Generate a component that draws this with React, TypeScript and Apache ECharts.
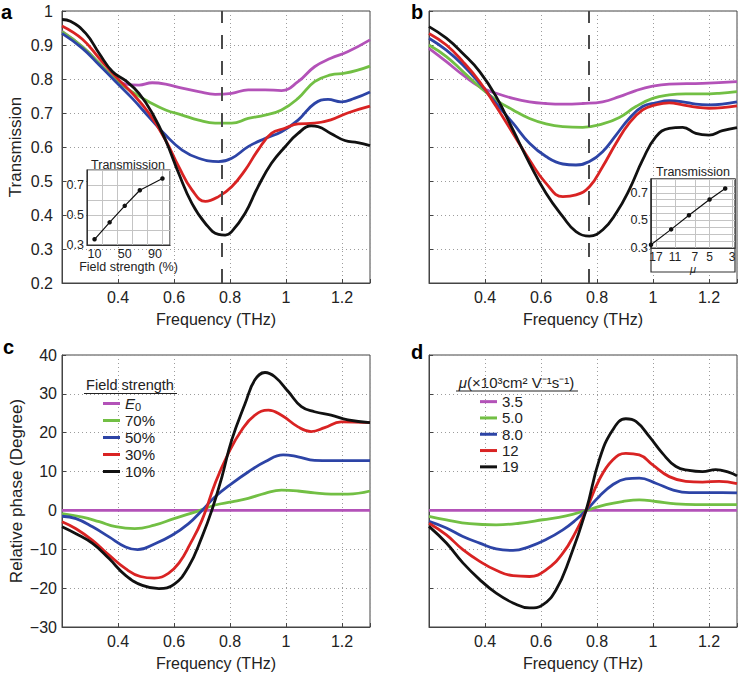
import React, { useEffect, useRef } from 'react';
import * as echarts from 'echarts';

const FONT = 'Liberation Sans, Arial, Helvetica, sans-serif';
const C_PURPLE = '#b352b8';
const C_GREEN = '#72bf44';
const C_BLUE = '#2d44a6';
const C_RED = '#d92323';
const C_BLACK = '#111111';
const seriesColors = [C_PURPLE, C_GREEN, C_BLUE, C_RED, C_BLACK];

// Legend labels
const fieldLegend = ['E0', '70%', '50%', '30%', '10%'];
const mobilityLegend = ['3.5', '5.0', '8.0', '12', '19'];

// Tick labels
const freqTickLabels = [0.4, 0.6, 0.8, 1, 1.2];
const insetYTickLabels = [0.3, 0.5, 0.7];
const insetAXTickLabels = [10, 50, 90];
const insetBXTickLabels = [17, 11, 7, 5, 3];

// Dashed marker frequency (THz)
const dipFrequency = 0.77;

// ---- Panel a: transmission, field strength ----
const transA_E0 = [[0.2,0.94],[0.273,0.895],[0.333,0.846],[0.392,0.797],[0.427,0.785],[0.475,0.782],[0.522,0.789],[0.57,0.785],[0.629,0.773],[0.688,0.763],[0.747,0.755],[0.806,0.758],[0.865,0.768],[0.925,0.768],[0.984,0.766],[1.043,0.792],[1.102,0.836],[1.16,0.861],[1.22,0.88],[1.3,0.915]];
const transA_70 = [[0.2,0.939],[0.273,0.895],[0.333,0.846],[0.392,0.797],[0.451,0.762],[0.51,0.733],[0.57,0.709],[0.629,0.694],[0.688,0.679],[0.747,0.67],[0.806,0.67],[0.865,0.684],[0.925,0.694],[0.984,0.709],[1.043,0.743],[1.102,0.792],[1.16,0.812],[1.21,0.817],[1.256,0.826],[1.3,0.838]];
const transA_50 = [[0.2,0.934],[0.273,0.89],[0.333,0.841],[0.392,0.792],[0.451,0.743],[0.51,0.689],[0.57,0.635],[0.629,0.591],[0.688,0.567],[0.759,0.557],[0.806,0.567],[0.865,0.601],[0.925,0.625],[0.984,0.645],[1.043,0.679],[1.102,0.728],[1.15,0.74],[1.197,0.733],[1.244,0.743],[1.3,0.762]];
const transA_30 = [[0.2,0.956],[0.273,0.917],[0.333,0.861],[0.392,0.807],[0.451,0.758],[0.51,0.7],[0.57,0.62],[0.617,0.542],[0.664,0.474],[0.712,0.44],[0.759,0.454],[0.806,0.483],[0.854,0.532],[0.9,0.591],[0.948,0.64],[0.996,0.655],[1.043,0.668],[1.102,0.67],[1.16,0.68],[1.22,0.7],[1.3,0.72]];
const transA_10 = [[0.2,0.975],[0.23,0.97],[0.285,0.934],[0.333,0.875],[0.38,0.822],[0.427,0.795],[0.475,0.758],[0.522,0.7],[0.57,0.62],[0.617,0.522],[0.664,0.434],[0.712,0.375],[0.759,0.343],[0.783,0.341],[0.806,0.351],[0.854,0.405],[0.9,0.483],[0.948,0.552],[0.996,0.6],[1.043,0.64],[1.09,0.662],[1.114,0.66],[1.16,0.64],[1.21,0.619],[1.256,0.613],[1.3,0.604]];

// ---- Panel b: transmission, mobility ----
const transB_35 = [[0.2,0.89],[0.262,0.851],[0.321,0.812],[0.381,0.777],[0.44,0.758],[0.5,0.743],[0.559,0.733],[0.618,0.728],[0.678,0.726],[0.749,0.728],[0.82,0.733],[0.88,0.748],[0.939,0.766],[0.999,0.779],[1.058,0.785],[1.177,0.787],[1.3,0.792]];
const transB_50 = [[0.2,0.9],[0.262,0.866],[0.321,0.822],[0.381,0.777],[0.44,0.738],[0.5,0.709],[0.559,0.684],[0.618,0.668],[0.678,0.66],[0.749,0.658],[0.82,0.668],[0.88,0.687],[0.939,0.719],[0.999,0.743],[1.058,0.753],[1.117,0.756],[1.177,0.756],[1.236,0.758],[1.3,0.763]];
const transB_80 = [[0.2,0.92],[0.262,0.885],[0.321,0.841],[0.381,0.787],[0.44,0.728],[0.5,0.67],[0.559,0.611],[0.618,0.572],[0.678,0.55],[0.725,0.547],[0.773,0.557],[0.82,0.586],[0.868,0.635],[0.915,0.684],[0.963,0.719],[1.01,0.73],[1.058,0.736],[1.106,0.733],[1.153,0.726],[1.2,0.724],[1.3,0.733]];
const transB_12 = [[0.2,0.934],[0.262,0.9],[0.321,0.851],[0.381,0.792],[0.44,0.719],[0.5,0.64],[0.559,0.562],[0.618,0.493],[0.678,0.454],[0.725,0.459],[0.773,0.483],[0.82,0.542],[0.868,0.611],[0.915,0.67],[0.963,0.709],[1.01,0.724],[1.058,0.73],[1.106,0.724],[1.153,0.717],[1.2,0.714],[1.3,0.721]];
const transB_19 = [[0.2,0.954],[0.262,0.92],[0.321,0.875],[0.381,0.822],[0.44,0.748],[0.5,0.65],[0.559,0.552],[0.618,0.464],[0.678,0.395],[0.725,0.351],[0.773,0.338],[0.82,0.356],[0.868,0.405],[0.915,0.474],[0.963,0.562],[1.01,0.63],[1.058,0.655],[1.106,0.658],[1.153,0.64],[1.2,0.635],[1.248,0.648],[1.3,0.657]];

// ---- Panel c: relative phase, field strength ----
const phaseC_E0 = [[0.2,0],[1.3,0]];
const phaseC_70 = [[0.2,-0.8],[0.273,-1.7],[0.333,-2.9],[0.392,-4.2],[0.46,-4.7],[0.53,-3.8],[0.6,-2.1],[0.688,-0.1],[0.747,1.4],[0.806,2.2],[0.865,3.1],[0.925,4.4],[0.984,5.2],[1.043,5.0],[1.102,4.5],[1.161,4.2],[1.221,4.2],[1.3,5.0]];
const phaseC_50 = [[0.2,-1.5],[0.25,-2.1],[0.309,-4.2],[0.368,-6.8],[0.427,-9.4],[0.47,-10.1],[0.534,-8.5],[0.593,-6.4],[0.652,-3.4],[0.7,0],[0.747,3.5],[0.806,6.9],[0.865,9.9],[0.925,12.5],[0.99,14.3],[1.043,13.8],[1.102,12.9],[1.161,12.8],[1.221,12.8],[1.3,12.8]];
const phaseC_30 = [[0.2,-2.9],[0.25,-4.7],[0.309,-7.7],[0.368,-11.5],[0.427,-15.0],[0.48,-17.0],[0.53,-17.4],[0.58,-16.2],[0.62,-13.3],[0.655,-9.0],[0.7,-2.5],[0.747,7.0],[0.794,14.7],[0.842,20.7],[0.889,24.5],[0.937,25.8],[0.984,24.5],[1.043,21.5],[1.09,20.3],[1.138,21.3],[1.197,22.8],[1.3,22.6]];
const phaseC_10 = [[0.2,-4.2],[0.25,-6.0],[0.309,-8.5],[0.368,-12.4],[0.427,-16.7],[0.487,-19.3],[0.546,-20.1],[0.6,-19.0],[0.652,-14.5],[0.7,-6.8],[0.735,0],[0.771,8.6],[0.806,18.1],[0.854,27.5],[0.889,33.6],[0.925,35.5],[0.96,34.4],[1.008,30.6],[1.055,26.7],[1.102,25.4],[1.161,24.5],[1.221,23.3],[1.3,22.6]];

// ---- Panel d: relative phase, mobility ----
const phaseD_35 = [[0.2,0],[1.3,0]];
const phaseD_50 = [[0.2,-1.5],[0.262,-2.4],[0.345,-3.4],[0.44,-3.7],[0.523,-3.3],[0.606,-2.4],[0.69,-1.4],[0.761,0],[0.832,1.5],[0.892,2.3],[0.951,2.7],[1.01,2.3],[1.082,1.7],[1.153,1.5],[1.224,1.5],[1.3,1.5]];
const phaseD_80 = [[0.2,-2.8],[0.262,-4.5],[0.321,-6.7],[0.381,-8.4],[0.44,-9.9],[0.5,-10.3],[0.559,-9.3],[0.618,-7.5],[0.678,-5.0],[0.725,-2.4],[0.761,0],[0.808,3.6],[0.856,6.6],[0.903,8.1],[0.951,8.3],[1.01,7.0],[1.07,5.3],[1.129,4.6],[1.189,4.6],[1.248,4.6],[1.3,4.5]];
const phaseD_12 = [[0.2,-3.3],[0.262,-6.3],[0.321,-10.1],[0.381,-13.1],[0.44,-15.4],[0.5,-16.8],[0.559,-17.0],[0.618,-15.3],[0.678,-11.0],[0.725,-5.4],[0.761,0],[0.808,7.9],[0.856,13.0],[0.903,14.7],[0.951,14.3],[0.999,11.7],[1.058,8.7],[1.117,7.5],[1.177,7.3],[1.236,7.5],[1.3,6.9]];
const phaseD_19 = [[0.2,-4.1],[0.262,-8.4],[0.321,-13.5],[0.381,-17.8],[0.44,-21.3],[0.5,-23.8],[0.559,-25.1],[0.606,-24.3],[0.654,-20.4],[0.701,-12.7],[0.761,0],[0.808,13.0],[0.856,20.7],[0.903,23.6],[0.939,22.9],[0.987,19.0],[1.034,14.7],[1.082,11.3],[1.129,10.3],[1.177,10.0],[1.224,10.5],[1.272,9.8],[1.3,8.9]];

// ---- Insets ----
const insetAField = [10, 30, 50, 70, 100];
const insetATrans = [0.338, 0.451, 0.561, 0.665, 0.743];
const insetBMobility = [19, 12, 8, 5, 3.5];
const insetBTrans = [0.324, 0.435, 0.537, 0.651, 0.731];

const fmt1 = (v: number) => String(Math.round(v * 10) / 10);
const inList = (list: number[], v: number) => list.some((t) => Math.abs(t - v) < 1e-6);

const gridLine = { show: true, lineStyle: { color: '#9c9c9c', type: [1, 3], width: 1 } };
const axisLine = { show: true, onZero: false, lineStyle: { color: '#444', width: 1 } };
const axisTick = { show: true, inside: true, length: 4, lineStyle: { color: '#444' } };

function freqAxis(gridIndex: number) {
  return {
    type: 'value', gridIndex, min: 0.2, max: 1.3, interval: 0.2,
    name: 'Frequency (THz)', nameLocation: 'middle', nameGap: 28,
    nameTextStyle: { fontSize: 16, color: '#222', fontFamily: FONT },
    axisLine, axisTick,
    axisLabel: {
      fontSize: 16, color: '#222', margin: 6, fontFamily: FONT,
      formatter: (v: number) => (inList(freqTickLabels, v) ? fmt1(v) : ''),
    },
    splitLine: gridLine,
  };
}

function transAxis(gridIndex: number, labels: boolean) {
  return {
    type: 'value', gridIndex, min: 0.2, max: 1, interval: 0.1,
    name: labels ? 'Transmission' : '', nameLocation: 'middle', nameGap: 38,
    nameTextStyle: { fontSize: 17, color: '#222', fontFamily: FONT },
    axisLine, axisTick,
    axisLabel: { show: labels, fontSize: 16, color: '#222', margin: 9, fontFamily: FONT, formatter: fmt1 },
    splitLine: gridLine,
  };
}

function phaseAxis(gridIndex: number, labels: boolean) {
  return {
    type: 'value', gridIndex, min: -30, max: 40, interval: 10,
    name: labels ? 'Relative phase (Degree)' : '', nameLocation: 'middle', nameGap: 37,
    nameTextStyle: { fontSize: 17, color: '#222', fontFamily: FONT },
    axisLine, axisTick,
    axisLabel: {
      show: labels, fontSize: 16, color: '#222', margin: 5, fontFamily: FONT,
      formatter: (v: number) => (v < 0 ? '\u2212' + Math.abs(v) : String(v)),
    },
    splitLine: gridLine,
  };
}

function curve(name: string, data: number[][], color: string, idx: number, extra: any = {}) {
  return {
    type: 'line', name, data, xAxisIndex: idx, yAxisIndex: idx,
    smooth: 0.45, symbol: 'none', showSymbol: false, silent: true,
    color, itemStyle: { color }, lineStyle: { color, width: 2.8 }, z: 3, ...extra,
  };
}

const dashMark = {
  silent: true, symbol: 'none', label: { show: false },
  lineStyle: { type: [14, 12], color: '#4a4a4a', width: 2 },
  data: [{ xAxis: dipFrequency }],
};

export default function App() {
  const ref = useRef<HTMLDivElement>(null);
  useEffect(() => {
    if (!ref.current) return;
    const chart = echarts.init(ref.current, undefined, { renderer: 'svg' });
    const panelA = [transA_E0, transA_70, transA_50, transA_30, transA_10];
    const panelB = [transB_35, transB_50, transB_80, transB_12, transB_19];
    const panelC = [phaseC_E0, phaseC_70, phaseC_50, phaseC_30, phaseC_10];
    const panelD = [phaseD_35, phaseD_50, phaseD_80, phaseD_12, phaseD_19];

    const series: any[] = [];
    panelA.forEach((d, i) => series.push(curve('Transmission (a) ' + fieldLegend[i], d, seriesColors[i], 0, i === 4 ? { markLine: dashMark } : {})));
    panelB.forEach((d, i) => series.push(curve('Transmission (b) ' + mobilityLegend[i], d, seriesColors[i], 1, i === 4 ? { markLine: dashMark } : {})));
    panelC.forEach((d, i) => series.push(curve(fieldLegend[i], d, seriesColors[i], 2)));
    panelD.forEach((d, i) => series.push(curve(mobilityLegend[i], d, seriesColors[i], 3)));

    const insetLine = (name: string, xs: number[], ys: number[], idx: number) => ({
      type: 'line', name, xAxisIndex: idx, yAxisIndex: idx, silent: true,
      data: xs.map((x, i) => [x, ys[i]]),
      symbol: 'circle', symbolSize: 4.5, showSymbol: true,
      itemStyle: { color: '#111' }, lineStyle: { color: '#111', width: 1.2 }, z: 10,
    });
    series.push(insetLine('Inset a', insetAField, insetATrans, 4));
    series.push(insetLine('Inset b', insetBMobility, insetBTrans, 5));

    const insetGridLine = { show: true, lineStyle: { color: '#c4c4c4', width: 1, type: 'solid' } };
    const insetAxisLine = { show: true, onZero: false, lineStyle: { color: '#333', width: 1 } };
    const insetYAxis = (gridIndex: number, interval: number) => ({
      type: 'value', gridIndex, min: 0.3, max: 0.8, interval, z: 7,
      axisLine: insetAxisLine, axisTick: { show: false },
      axisLabel: {
        fontSize: 12.5, color: '#222', margin: 3, fontFamily: FONT,
        formatter: (v: number) => (inList(insetYTickLabels, v) ? fmt1(v) : ''),
      },
      splitLine: insetGridLine,
    });

    const legendText = {
      fontSize: 15, color: '#222', fontFamily: FONT,
      rich: {
        i: { fontStyle: 'italic', fontSize: 15, fontFamily: FONT, color: '#222' },
        s: { fontSize: 11, fontFamily: FONT, color: '#222', padding: [6, 0, 0, 0] },
      },
    };

    const option: any = {
      animation: false,
      backgroundColor: '#ffffff',
      grid: [
        { left: 62, top: 11, width: 308, height: 272, show: true, borderColor: '#444', borderWidth: 1, backgroundColor: 'transparent' },
        { left: 429, top: 11, width: 310, height: 272, show: true, borderColor: '#444', borderWidth: 1, backgroundColor: 'transparent' },
        { left: 62, top: 355, width: 308, height: 272, show: true, borderColor: '#444', borderWidth: 1, backgroundColor: 'transparent' },
        { left: 429, top: 355, width: 310, height: 272, show: true, borderColor: '#444', borderWidth: 1, backgroundColor: 'transparent' },
        { left: 87, top: 170, width: 83, height: 75, show: true, borderColor: '#333', borderWidth: 1.2, backgroundColor: '#ffffff', z: 6 },
        { left: 651, top: 179, width: 84, height: 69, show: true, borderColor: '#333', borderWidth: 1.2, backgroundColor: '#ffffff', z: 6 },
      ],
      xAxis: [
        freqAxis(0), freqAxis(1), freqAxis(2), freqAxis(3),
        {
          type: 'value', gridIndex: 4, min: 0, max: 110, interval: 20, z: 7,
          name: 'Field strength (%)', nameLocation: 'middle', nameGap: 15,
          nameTextStyle: { fontSize: 12.5, color: '#222', fontFamily: FONT },
          axisLine: insetAxisLine, axisTick: { show: false },
          axisLabel: { customValues: insetAXTickLabels, fontSize: 12.5, color: '#222', margin: 2, fontFamily: FONT },
          splitLine: insetGridLine,
        },
        {
          type: 'log', gridIndex: 5, min: 2.8, max: 19, inverse: true, z: 7,
          name: 'μ', nameLocation: 'middle', nameGap: 12,
          nameTextStyle: { fontSize: 11, color: '#222', fontFamily: FONT, fontStyle: 'italic' },
          axisLine: insetAxisLine,
          axisTick: { show: false, customValues: insetBXTickLabels },
          axisLabel: { customValues: insetBXTickLabels, fontSize: 12, color: '#222', margin: 3, fontFamily: FONT },
          splitLine: insetGridLine,
        },
      ],
      yAxis: [
        transAxis(0, true), transAxis(1, false), phaseAxis(2, true), phaseAxis(3, false),
        insetYAxis(4, 0.1), insetYAxis(5, 0.05),
      ],
      legend: [
        {
          data: fieldLegend, orient: 'vertical', left: 103, top: 395, padding: 0,
          icon: 'rect', itemWidth: 17, itemHeight: 3, itemGap: 0, itemTextGap: 6, selectedMode: false,
          textStyle: { ...legendText, lineHeight: 17 },
          formatter: (n: string) => (n === 'E0' ? '{i|E}{s|0}' : n),
        },
        {
          data: mobilityLegend, orient: 'vertical', left: 480, top: 393.5, padding: 0,
          icon: 'rect', itemWidth: 17, itemHeight: 3, itemGap: 0, itemTextGap: 6, selectedMode: false,
          textStyle: { ...legendText, lineHeight: 16.3 },
        },
      ],
      graphic: [
        { type: 'text', x: 1, y: 11.5, style: { text: 'a', font: 'bold 20px ' + FONT, fill: '#000', textVerticalAlign: 'middle' } },
        { type: 'text', x: 411, y: 11.5, style: { text: 'b', font: 'bold 20px ' + FONT, fill: '#000', textVerticalAlign: 'middle' } },
        { type: 'text', x: 3, y: 346.6, style: { text: 'c', font: 'bold 20px ' + FONT, fill: '#000', textVerticalAlign: 'middle' } },
        { type: 'text', x: 411, y: 351.5, style: { text: 'd', font: 'bold 20px ' + FONT, fill: '#000', textVerticalAlign: 'middle' } },
        { type: 'text', x: 130, y: 385, style: { text: 'Field strength', font: '14.5px ' + FONT, fill: '#222', textAlign: 'center', textVerticalAlign: 'middle' } },
        { type: 'line', shape: { x1: 84, y1: 393.5, x2: 177, y2: 393.5 }, style: { stroke: '#222', lineWidth: 1 } },
        {
          type: 'text', x: 516.5, y: 382.7,
          style: {
            text: '{m|μ}(×10³cm² V⁻¹s⁻¹)', font: '15px ' + FONT, fill: '#222', textAlign: 'center', textVerticalAlign: 'middle',
            rich: { m: { fontStyle: 'italic', fontSize: 15, fontFamily: FONT, fill: '#222' } },
          },
        },
        { type: 'line', shape: { x1: 456, y1: 391, x2: 578, y2: 391 }, style: { stroke: '#222', lineWidth: 1 } },
        { type: 'rect', z: 3, shape: { x: 651, y: 179, width: 84, height: 93 }, style: { fill: '#ffffff', stroke: '#333', lineWidth: 1.2 } },
        { type: 'text', z: 9, x: 128, y: 165, style: { text: 'Transmission', font: '12.5px ' + FONT, fill: '#222', textAlign: 'center', textVerticalAlign: 'middle' } },
        { type: 'text', z: 9, x: 693, y: 172, style: { text: 'Transmission', font: '12.5px ' + FONT, fill: '#222', textAlign: 'center', textVerticalAlign: 'middle' } },
      ],
      series,
    };
    chart.setOption(option);
    return () => chart.dispose();
  }, []);
  return <div ref={ref} style={{ position: 'absolute', left: 0, top: 0, width: 740, height: 673, background: '#fff' }} />;
}
